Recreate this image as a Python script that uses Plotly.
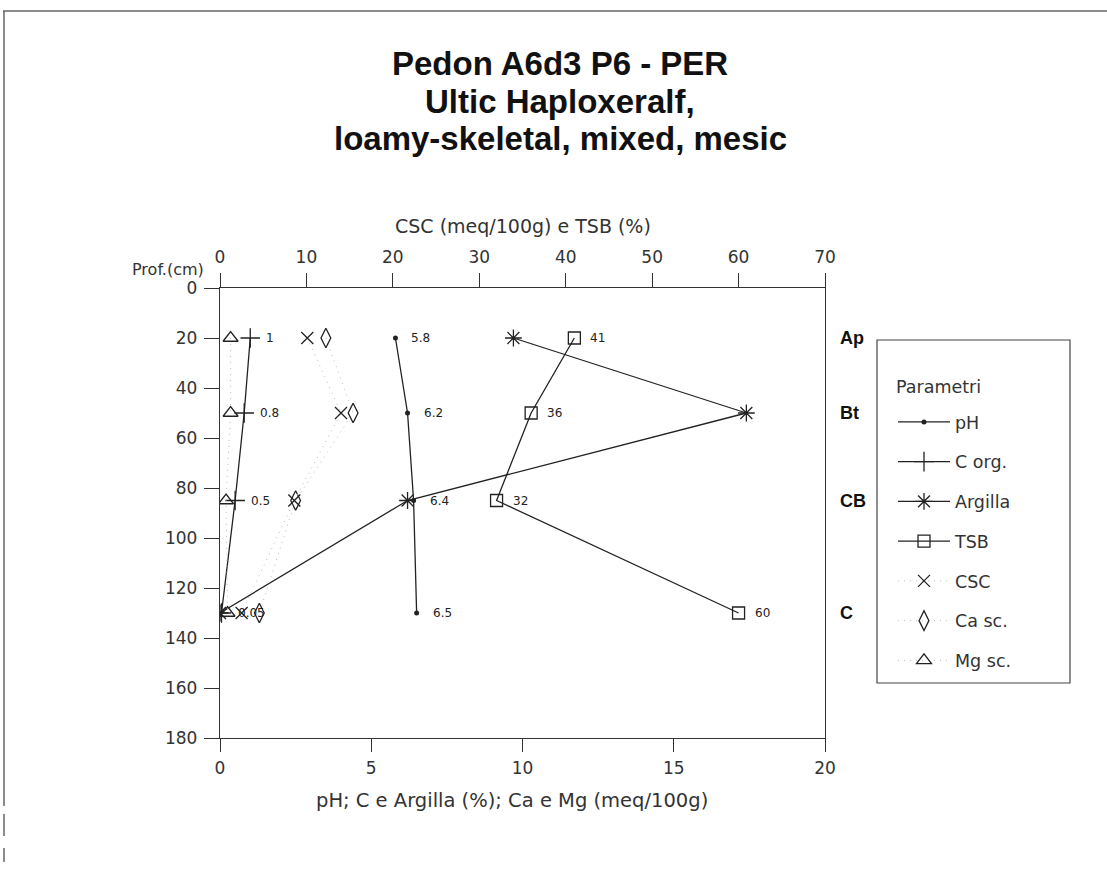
import plotly.graph_objects as go

# Soil profile: horizon mid-depths (cm) and measured parameters
depth = [20, 50, 85, 130]
horizons = ["Ap", "Bt", "CB", "C"]
ph = [5.8, 6.2, 6.4, 6.5]
c_org = [1.0, 0.8, 0.5, 0.05]
argilla = [9.7, 17.4, 6.2, 0.0]
tsb = [41, 36, 32, 60]
csc = [10.1, 14.0, 8.6, 2.5]
ca_sc = [3.5, 4.4, 2.5, 1.3]
mg_sc = [0.35, 0.35, 0.2, 0.25]
ph_labels = ["5.8", "6.2", "6.4", "6.5"]
c_labels = ["1", "0.8", "0.5", "0.05"]
tsb_labels = ["41", "36", "32", "60"]
bottom_ticks = [0, 5, 10, 15, 20]
top_ticks = [0, 10, 20, 30, 40, 50, 60, 70]
depth_ticks = list(range(0, 181, 20))
title_lines = ["Pedon A6d3 P6 - PER", "Ultic Haploxeralf,", "loamy-skeletal, mixed, mesic"]

W, H = 1107, 871
L, R, T, B = 220, 825, 288, 738
TITLE_FONT = "Liberation Sans"
FONT = "DejaVu Sans"
INK = "#222"
AX = "#333"


def px(x):
    return (x - L) / (R - L)


def py(y):
    return (B - y) / (B - T)


fig = go.Figure()

solid = dict(color=INK, width=1.3)
dotted = dict(color="#bdbdbd", width=1, dash="1px,5px")

fig.add_trace(go.Scatter(x=ph, y=depth, name="pH", mode="lines+markers",
                         line=solid, marker=dict(symbol="circle", size=5, color=INK),
                         legendgroup="a"))
fig.add_trace(go.Scatter(x=c_org, y=depth, name="C org.", mode="lines+markers",
                         line=solid,
                         marker=dict(symbol="cross-thin", size=14, color=INK,
                                     line=dict(color=INK, width=1.3)),
                         legendgroup="b"))
fig.add_trace(go.Scatter(x=argilla, y=depth, name="Argilla", mode="lines+markers",
                         line=solid,
                         marker=dict(symbol="asterisk", size=14, color=INK,
                                     line=dict(color=INK, width=1.3)),
                         legendgroup="c"))
fig.add_trace(go.Scatter(x=tsb, y=depth, name="TSB", mode="lines+markers",
                         xaxis="x2", line=solid,
                         marker=dict(symbol="square-open", size=12, color=INK,
                                     line=dict(color=INK, width=1.3)),
                         legendgroup="d"))
fig.add_trace(go.Scatter(x=csc, y=depth, name="CSC", mode="lines+markers",
                         xaxis="x2", line=dotted,
                         marker=dict(symbol="x-thin", size=12, color=INK,
                                     line=dict(color=INK, width=1.3)),
                         legendgroup="e"))
fig.add_trace(go.Scatter(x=ca_sc, y=depth, name="Ca sc.", mode="lines+markers",
                         line=dotted,
                         marker=dict(symbol="diamond-tall-open", size=14, color=INK,
                                     line=dict(color=INK, width=1.3)),
                         legendgroup="f"))
fig.add_trace(go.Scatter(x=mg_sc, y=depth, name="Mg sc.", mode="lines+markers",
                         line=dotted,
                         marker=dict(symbol="triangle-up-open", size=13, color=INK,
                                     line=dict(color=INK, width=1.3)),
                         legendgroup="g"))

annotations = []
lab_font = dict(family=FONT, size=12, color=INK)
for xs, labs, xref in ((ph, ph_labels, "x"), (c_org, c_labels, "x"), (tsb, tsb_labels, "x2")):
    for xv, yv, t in zip(xs, depth, labs):
        annotations.append(dict(x=xv, y=yv, xref=xref, yref="y", text=t, showarrow=False,
                                xanchor="left", xshift=14, font=lab_font))

for yv, hname in zip(depth, horizons):
    annotations.append(dict(x=px(838), y=yv, xref="paper", yref="y", text="<b>%s</b>" % hname,
                            showarrow=False, xanchor="left",
                            font=dict(family=TITLE_FONT, size=18, color="#111")))

for i, line in enumerate(title_lines):
    annotations.append(dict(x=px(560), y=py(64 + 37 * i), xref="paper", yref="paper",
                            text="<b>%s</b>" % line, showarrow=False,
                            xanchor="center", yanchor="middle",
                            font=dict(family=TITLE_FONT, size=33, color="#111")))

annotations.append(dict(x=px(523), y=py(213), xref="paper", yref="paper",
                        text="CSC (meq/100g) e TSB (%)", showarrow=False,
                        font=dict(family=FONT, size=19, color=AX)))
annotations.append(dict(x=px(512), y=py(800), xref="paper", yref="paper",
                        text="pH; C e Argilla (%); Ca e Mg (meq/100g)", showarrow=False,
                        xanchor="center", yanchor="middle",
                        font=dict(family=FONT, size=19.5, color=AX)))
annotations.append(dict(x=px(206), y=py(258), xref="paper", yref="paper",
                        text="Prof.(cm)", showarrow=False, xanchor="right",
                        font=dict(family=FONT, size=16, color=AX)))
annotations.append(dict(x=px(894), y=py(375), xref="paper", yref="paper",
                        text="Parametri", showarrow=False, xanchor="left",
                        font=dict(family=FONT, size=17.5, color=AX)))

frame = dict(color="#666", width=1.5)
shapes = [
    # legend frame
    dict(type="rect", xref="paper", yref="paper", x0=px(877), x1=px(1070),
         y0=py(683), y1=py(340), line=dict(color="#444", width=1.2)),
    # outer page frame
    dict(type="line", xref="paper", yref="paper", x0=px(3), x1=px(1107),
         y0=py(11), y1=py(11), line=frame),
    dict(type="line", xref="paper", yref="paper", x0=px(4), x1=px(4),
         y0=py(11), y1=py(806), line=frame),
    dict(type="line", xref="paper", yref="paper", x0=px(4), x1=px(4),
         y0=py(814), y1=py(836), line=frame),
    dict(type="line", xref="paper", yref="paper", x0=px(4), x1=px(4),
         y0=py(848), y1=py(862), line=frame),
]

tick_font = dict(family=FONT, size=17, color=AX)
fig.update_layout(
    width=W, height=H,
    margin=dict(l=L, r=W - R, t=T, b=H - B, pad=0),
    paper_bgcolor="white", plot_bgcolor="white",
    font=dict(family=FONT, color=AX),
    xaxis=dict(range=[0, 20], tickvals=bottom_ticks, ticks="outside", ticklen=13,
               tickcolor=AX, showline=True, linecolor=AX, linewidth=1.3,
               showgrid=False, zeroline=False, tickfont=tick_font, ticklabelstandoff=1),
    xaxis2=dict(range=[0, 70], tickvals=top_ticks, overlaying="x", side="top",
                ticks="outside", ticklen=14, tickcolor=AX, showline=True,
                linecolor=AX, linewidth=1.3, showgrid=False, zeroline=False,
                tickfont=tick_font, ticklabelstandoff=3),
    yaxis=dict(range=[180, 0], tickvals=depth_ticks, ticks="outside", ticklen=15,
               tickcolor=AX, showline=True, mirror=True, linecolor=AX, linewidth=1.3,
               showgrid=False, zeroline=False, tickfont=tick_font, ticklabelstandoff=3),
    showlegend=True,
    legend=dict(x=px(893), y=py(404), xanchor="left", yanchor="top",
                bgcolor="rgba(0,0,0,0)", borderwidth=0, traceorder="grouped",
                tracegroupgap=14, itemwidth=52,
                font=dict(family=FONT, size=17.5, color=AX)),
    annotations=annotations,
    shapes=shapes,
)

fig.write_html("out.html")
